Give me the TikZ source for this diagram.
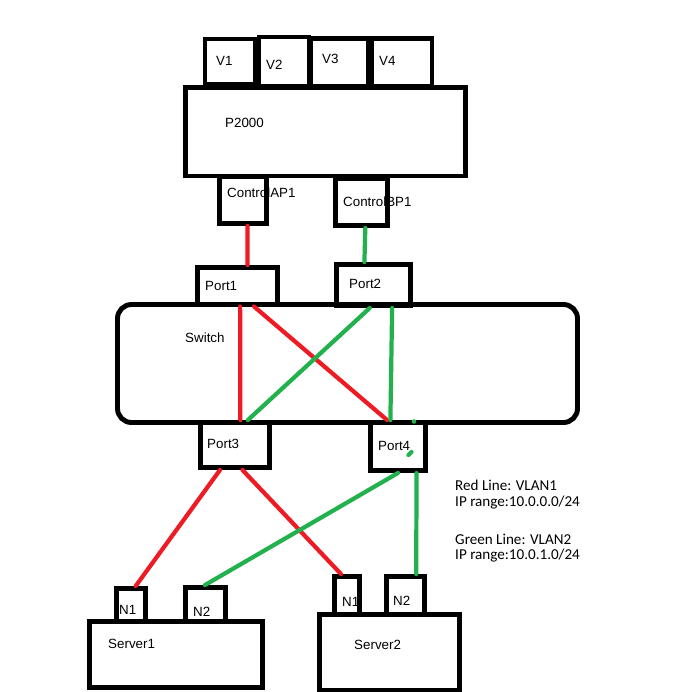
\documentclass[tikz,border=0pt]{standalone}
\usepackage{fontspec}
\setmainfont{Liberation Sans}
\newfontfamily\legendfont{Carlito}
\usetikzlibrary{fit,calc}
\definecolor{paintred}{RGB}{237,28,36}
\definecolor{paintgreen}{RGB}{34,177,76}
\begin{document}
\begin{tikzpicture}[
    x=0.03cm, y=-0.03cm,
    box/.style={draw=black, line width=4.2pt, inner sep=0pt},
    txt/.style={anchor=west, inner sep=0pt, font=\fontsize{11.4}{13}\selectfont},
    legtxt/.style={anchor=base west, inner sep=0pt, font=\legendfont\fontsize{12.9}{14}\selectfont},
    vlan1/.style={draw=paintred, line width=3.6pt, line cap=round},
    vlan2/.style={draw=paintgreen, line width=3.6pt, line cap=round}
]
\useasboundingbox (0,0) rectangle (673,692);

% Tarjetas V1..V4 encima del P2000
% Formato: nombre, esquina sup. izq., esquina inf. der., texto en (x,y)
\foreach \name/\xa/\ya/\xb/\yb/\tx/\ty in {
    V1/205/39/255/84/216/61,
    V2/259/37/309/86/266/64.5,
    V3/311/38.5/368/86/322/59,
    V4/372/38.5/432/86/379/61
} {
    \node[box, fit={(\xa,\ya) (\xb,\yb)}] (\name) {};
    \node[txt] (t\name) at (\tx,\ty) {\name};
}

% Cabina P2000 y sus controladoras
\node[box, fit={(185.5,87.5) (465.5,176)}] (p2000) {};
\node[txt] (tp2000) at (225,123) {P2000};
\node[box, fit={(219.5,176.5) (266.5,223.5)}] (cap1) {};
\node[txt] (tcap1) at (227,193) {ControlAP1};
\node[box, fit={(335.5,179) (387.5,225.5)}] (cbp1) {};
\node[txt] (tcbp1) at (343,201.5) {ControlBP1};

% Switch con sus cuatro puertos
\node[box, rounded corners=0.42cm, fit={(117.5,304.5) (577.5,422.5)}] (switch) {};
\node[txt] (tswitch) at (185,338) {Switch};
\foreach \name/\xa/\ya/\xb/\yb/\tx/\ty/\lbl in {
    port1/197.5/267.5/277.5/304/205/285.5/Port1,
    port2/336.5/264.5/410.5/305.5/349/283.5/Port2,
    port3/200.5/422.5/269.5/467.5/207/443.5/Port3,
    port4/370.5/422.5/425.5/470.5/378/446/Port4
} {
    \node[box, fit={(\xa,\ya) (\xb,\yb)}] (\name) {};
    \node[txt] (t\name) at (\tx,\ty) {\lbl};
}

% Servidores y sus tarjetas de red
\node[box, fit={(89.5,621.5) (262.5,687.5)}] (server1) {};
\node[txt] (tserver1) at (108,644) {Server1};
\node[box, fit={(319.5,614.5) (459.5,690)}] (server2) {};
\node[txt] (tserver2) at (354,645) {Server2};
\foreach \name/\xa/\ya/\xb/\yb/\tx/\ty/\lbl in {
    s1n1/116.5/588.5/145.5/621.5/119/609.5/N1,
    s1n2/185.5/587.5/225.5/621.5/193/612/N2,
    s2n1/334.5/576.5/359.5/614.5/342/602/N1,
    s2n2/386.5/576.5/424.5/614.5/393/600.5/N2
} {
    \node[box, fit={(\xa,\ya) (\xb,\yb)}] (\name) {};
    \node[txt] (t\name) at (\tx,\ty) {\lbl};
}

% Enlaces VLAN1 (rojo)
\draw[vlan1] ($(cap1.south west)!.585!(cap1.south east)$) -- ($(port1.north west)!.619!(port1.north east)$);
\draw[vlan1] ($(port1.south west)!.531!(port1.south east)$) -- ($(port3.north west)!.572!(port3.north east)$);
\draw[vlan1] ($(port1.south west)!.694!(port1.south east)$) -- ($(port4.north west)!.318!(port4.north east)$);
\draw[vlan1] ($(port3.south west)!.297!(port3.south east)$) -- ($(s1n1.north west)!.638!(s1n1.north east)$);
\draw[vlan1] ($(port3.south west)!.601!(port3.south east)$) -- ($(s2n1.north west)!.3!(s2n1.north east)$);

% Enlaces VLAN2 (verde)
\draw[vlan2] ($(cbp1.south west)!.567!(cbp1.south east)$) -- ($(port2.north west)!.385!(port2.north east)$);
\draw[vlan2] ($(port2.south west)!.453!(port2.south east)$) -- ($(port3.north west)!.674!(port3.north east)$);
\draw[vlan2] ($(port2.south west)!.736!(port2.south east)$) -- ($(port4.north west)!.373!(port4.north east)$);
\draw[vlan2] ($(port4.south west)!.5!(port4.south east)$) -- ($(s1n2.north west)!.4875!(s1n2.north east)$);
\draw[vlan2] ($(port4.south west)!.809!(port4.south east)$) -- ($(s2n2.north west)!.75!(s2n2.north east)$);
% Marcas verdes sueltas en Port4
\fill[paintgreen] (414,421.5) circle (2.3);
\draw[vlan2] (408.5,455) -- (411.5,452);

% Leyenda
\foreach \i/\ty/\lbl in {
    1/490.7/{Red Line: VLAN1},
    2/506.2/{IP range:10.0.0.0/24},
    3/544/{Green Line: VLAN2},
    4/559.5/{IP range:10.0.1.0/24}
} {
    \node[legtxt] (leg\i) at (455,\ty) {\lbl};
}
\end{tikzpicture}
\end{document}
